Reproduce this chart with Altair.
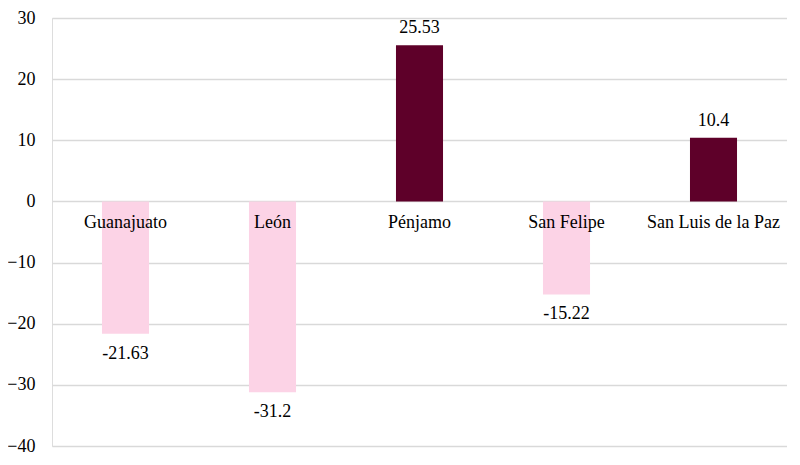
import altair as alt
import pandas as pd

categories = ["Guanajuato", "León", "Pénjamo", "San Felipe", "San Luis de la Paz"]
values = [-21.63, -31.2, 25.53, -15.22, 10.4]
y_ticks = [-40, -30, -20, -10, 0, 10, 20, 30]

df = pd.DataFrame({"cat": categories, "value": values})
df["sign"] = ["pos" if v >= 0 else "neg" for v in values]
df["label"] = [str(v) for v in values]

FONT = "Liberation Serif"
FS = 18

x = alt.X("cat:N", sort=categories, axis=None,
          scale=alt.Scale(paddingInner=0.68, paddingOuter=0.34))
yscale = alt.Scale(domain=[-40, 30], nice=False, zero=False)

base = alt.Chart(df)

bars = base.mark_bar().encode(
    x=x,
    y=alt.Y("value:Q", scale=yscale, title=None,
            axis=alt.Axis(values=y_ticks, domain=False, ticks=False, labelPadding=17,
                          labelFont=FONT, labelFontSize=FS, labelColor="#000000",
                          gridColor="#d9d9d9", gridWidth=1.5)),
    y2=alt.datum(0),
    color=alt.Color("sign:N", scale=alt.Scale(domain=["pos", "neg"], range=["#5e0029", "#fcd3e6"]),
                    legend=None),
)

cat_text = base.mark_text(font=FONT, fontSize=FS, color="#000000", baseline="alphabetic", dy=27).encode(
    x=x, y=alt.datum(0), text="cat:N"
)

pos_text = base.transform_filter("datum.value >= 0").mark_text(
    font=FONT, fontSize=FS, color="#000000", baseline="alphabetic", dy=-12
).encode(x=x, y=alt.Y("value:Q", scale=yscale), text="label:N")

neg_text = base.transform_filter("datum.value < 0").mark_text(
    font=FONT, fontSize=FS, color="#000000", baseline="alphabetic", dy=25
).encode(x=x, y=alt.Y("value:Q", scale=yscale), text="label:N")

chart = alt.layer(bars, cat_text, pos_text, neg_text).properties(
    width=735, height=428,
    autosize=alt.AutoSizeParams(type="none"),
    padding={"left": 44, "top": 10, "right": 0, "bottom": 9},
).configure_view(stroke=None).configure(background="#ffffff")

chart.save("out.html", embed_options={"renderer": "svg", "actions": False})
